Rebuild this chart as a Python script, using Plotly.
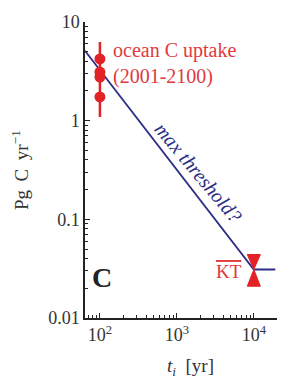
import plotly.graph_objects as go
import numpy as np

# ---- data ----
ocean_t = [100, 100, 100, 100]
ocean_uptake = [4.22, 3.11, 2.77, 1.74]
ocean_range_t = [100, 100]
ocean_range = [1.09, 6.27]

threshold_t = [64, 10000, 19000]
threshold_flux = [5.1, 0.031, 0.031]

kt_t = 10000
kt_flux = 0.031
kt_low = 0.021
kt_high = 0.044

x_tickvals = [100, 1000, 10000]
x_ticktext = ["10<sup>2</sup>", "10<sup>3</sup>", "10<sup>4</sup>"]
y_tickvals = [0.01, 0.1, 1, 10]
y_ticktext = ["0.01", "0.1", "1", "10"]

# ---- styles ----
RED = "#e32228"
RED_TXT = "#e03a3e"
BLUE = "#2d2f86"
FONT = "Liberation Serif"

W, H = 300, 384
L, R, T, B = 85, 23, 22, 66
pw, ph = W - L - R, H - T - B

def px(x):
    return (x - L) / pw

def py(y):
    return (H - B - y) / ph

fig = go.Figure()

# threshold line
fig.add_trace(go.Scatter(x=threshold_t, y=threshold_flux, mode="lines",
                         line=dict(color=BLUE, width=1.8), hoverinfo="skip"))

# KT hourglass (built from the KT values)
hw = 10 ** 0.085
hx = [kt_t / hw, kt_t * hw, kt_t, kt_t * hw, kt_t / hw, kt_t, kt_t / hw]
hy = [kt_high, kt_high, kt_flux, kt_low, kt_low, kt_flux, kt_high]
fig.add_trace(go.Scatter(x=hx, y=hy, mode="lines", fill="toself",
                         fillcolor=RED, line=dict(color=RED, width=1),
                         hoverinfo="skip"))

# ocean uptake range and points
fig.add_trace(go.Scatter(x=ocean_range_t, y=ocean_range, mode="lines",
                         line=dict(color=RED, width=2.5), hoverinfo="skip"))
fig.add_trace(go.Scatter(x=ocean_t, y=ocean_uptake, mode="markers",
                         marker=dict(color=RED, size=11), hoverinfo="skip"))

minor_x = [m * 10 ** k for k in range(1, 5) for m in range(2, 10)]
minor_y = [m * 10 ** k for k in range(-2, 1) for m in range(2, 10)]

fig.update_xaxes(type="log", range=[np.log10(64), np.log10(20000)],
                 showline=True, linecolor="#222", linewidth=1.5,
                 ticks="inside", ticklen=5, tickcolor="#222",
                 tickvals=x_tickvals, ticktext=x_ticktext,
                 showgrid=False, zeroline=False, mirror=False,
                 tickfont=dict(family=FONT, size=18, color="#333"),
                 minor=dict(tickvals=minor_x, ticks="inside", ticklen=3,
                            tickcolor="#222", showgrid=False))
fig.update_yaxes(type="log", range=[-2, 1],
                 showline=True, linecolor="#222", linewidth=1.5,
                 ticks="inside", ticklen=5, tickcolor="#222",
                 tickvals=y_tickvals, ticktext=y_ticktext,
                 showgrid=False, zeroline=False, mirror=False,
                 tickfont=dict(family=FONT, size=18, color="#333"),
                 minor=dict(tickvals=minor_y, ticks="inside", ticklen=3,
                            tickcolor="#222", showgrid=False))

ann = [
    dict(x=px(111), y=py(37), xanchor="left", yanchor="top", align="left",
         text="ocean C uptake<br>(2001-2100)",
         font=dict(family=FONT, size=20, color=RED_TXT)),
    dict(x=px(198), y=py(172), xanchor="center", yanchor="middle",
         text="<i>max threshold?</i>", textangle=50,
         font=dict(family=FONT, size=20, color=BLUE)),
    dict(x=px(244), y=py(271), xanchor="right", yanchor="middle",
         text='<span style="text-decoration:overline">KT</span>',
         font=dict(family=FONT, size=19, color=RED_TXT)),
    dict(x=px(102), y=py(277), xanchor="center", yanchor="middle",
         text="<b>C</b>", font=dict(family=FONT, size=28, color="#222")),
    dict(x=px(20), y=py(170), xanchor="center", yanchor="middle",
         text="Pg\u2009 C\u2009 yr<sup>\u22121</sup>", textangle=-90,
         font=dict(family=FONT, size=19, color="#333")),
    dict(x=px(190), y=py(367), xanchor="center", yanchor="middle",
         text="<i>t<sub>i</sub></i>\u2002[yr]",
         font=dict(family=FONT, size=19, color="#333")),
]
for a in ann:
    a.update(xref="paper", yref="paper", showarrow=False)

fig.update_layout(width=W, height=H, margin=dict(l=L, r=R, t=T, b=B),
                  paper_bgcolor="white", plot_bgcolor="white",
                  showlegend=False, annotations=ann)

fig.write_html("out.html", config={"displayModeBar": False})
